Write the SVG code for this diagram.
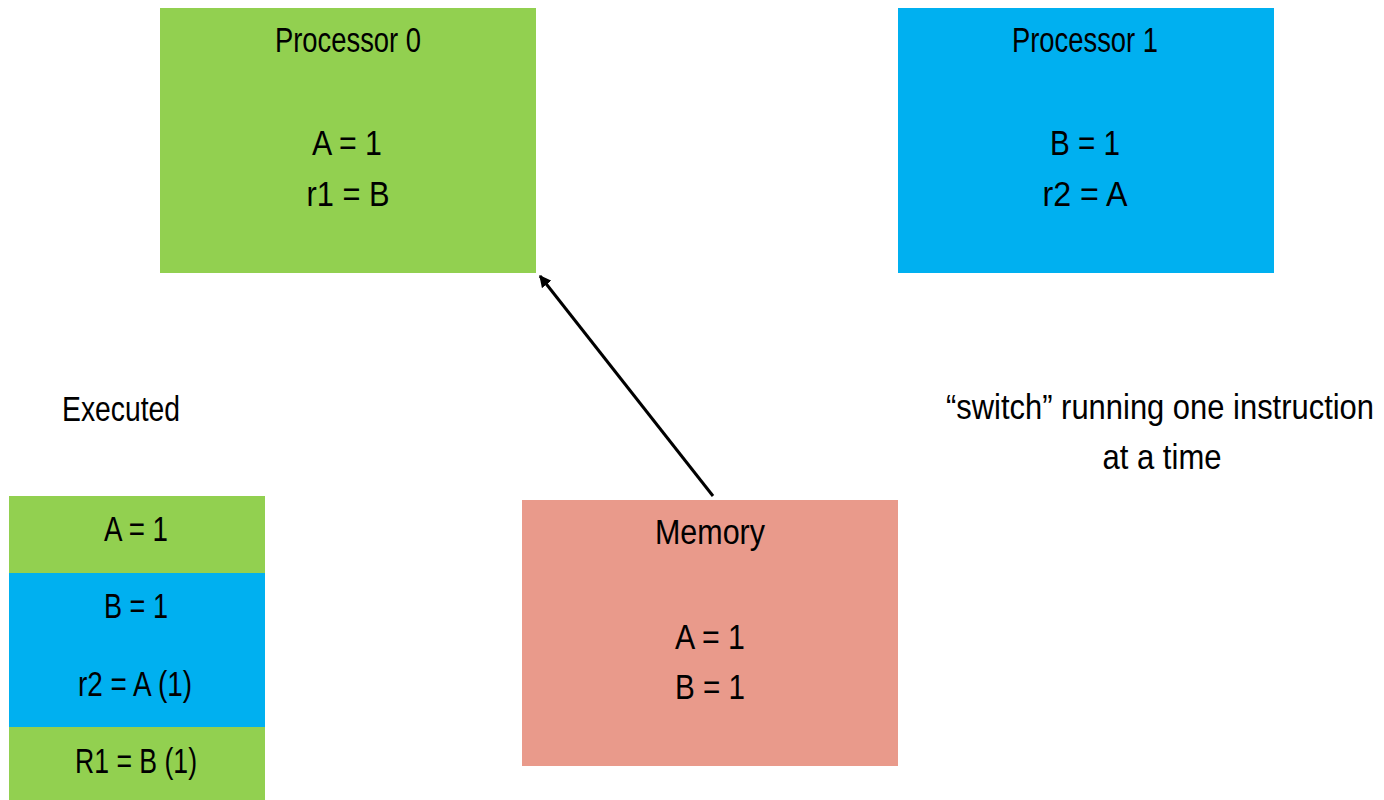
<svg xmlns="http://www.w3.org/2000/svg" width="1384" height="800" viewBox="0 0 1384 800">
<defs>
<style>
text{font-family:"Liberation Sans Narrow","Liberation Sans",Arial,sans-serif;font-size:35px;fill:#000;text-anchor:middle}
.g{fill:#92D050}.b{fill:#00B0F0}.m{fill:#E99A8B}
.c{stroke:#000;stroke-width:3;fill:none}
</style>
<marker id="ah" viewBox="0 0 10 10" refX="9" refY="5" markerWidth="4" markerHeight="4" orient="auto"><path d="M0,0 L10,5 L0,10 z" fill="#000"/></marker>
</defs>
<rect width="1384" height="800" fill="#fff"/>
<g id="processor0">
<rect class="g" x="160" y="8" width="376" height="265"/>
<text x="348" y="52" textLength="146" lengthAdjust="spacingAndGlyphs">Processor 0</text>
<text x="347" y="155" textLength="70" lengthAdjust="spacingAndGlyphs">A = 1</text>
<text x="348" y="206" textLength="83" lengthAdjust="spacingAndGlyphs">r1 = B</text>
</g>
<g id="processor1">
<rect class="b" x="898" y="8" width="376" height="265"/>
<text x="1085" y="52" textLength="146" lengthAdjust="spacingAndGlyphs">Processor 1</text>
<text x="1085" y="155" textLength="70" lengthAdjust="spacingAndGlyphs">B = 1</text>
<text x="1085" y="206" textLength="85" lengthAdjust="spacingAndGlyphs">r2 = A</text>
</g>
<g id="memory">
<rect class="m" x="522" y="500" width="376" height="266"/>
<text x="710" y="544" textLength="110" lengthAdjust="spacingAndGlyphs">Memory</text>
<text x="710" y="649" textLength="70" lengthAdjust="spacingAndGlyphs">A = 1</text>
<text x="710" y="699" textLength="70" lengthAdjust="spacingAndGlyphs">B = 1</text>
</g>
<g id="executed-label">
<text x="121" y="421" textLength="118" lengthAdjust="spacingAndGlyphs">Executed</text>
</g>
<g id="executed-stack">
<rect class="g" x="9" y="496" width="256" height="77"/>
<rect class="b" x="9" y="573" width="256" height="154"/>
<rect class="g" x="9" y="727" width="256" height="73"/>
<text x="136" y="541" textLength="64" lengthAdjust="spacingAndGlyphs">A = 1</text>
<text x="136" y="618" textLength="64" lengthAdjust="spacingAndGlyphs">B = 1</text>
<text x="135" y="696" textLength="114" lengthAdjust="spacingAndGlyphs">r2 = A (1)</text>
<text x="136" y="773" textLength="122" lengthAdjust="spacingAndGlyphs">R1 = B (1)</text>
</g>
<g id="note">
<text transform="translate(1160 419) scale(0.8 1)" x="0" y="0" textLength="535" lengthAdjust="spacingAndGlyphs">“switch” running one instruction</text>
<text x="1162" y="469" textLength="119" lengthAdjust="spacingAndGlyphs">at a time</text>
</g>
<g id="connectors">
<line class="c" x1="713" y1="496" x2="540" y2="276" marker-end="url(#ah)"/>
</g>
</svg>
